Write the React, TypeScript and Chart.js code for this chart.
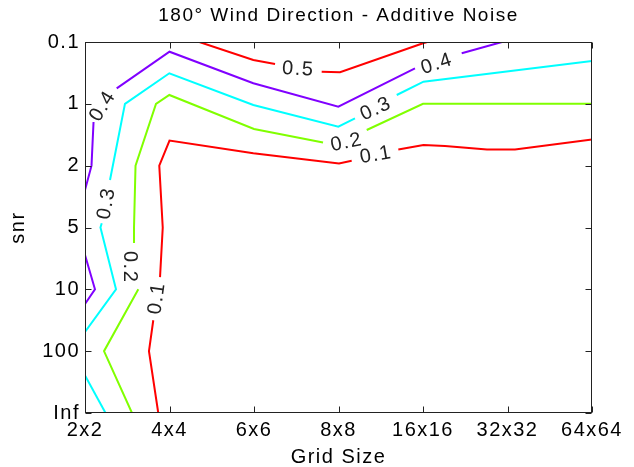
import React, { useEffect, useRef } from 'react';
import { Chart, registerables } from 'chart.js';

Chart.register(...registerables);

// axis categories
const gridSizes = ['2x2', '4x4', '6x6', '8x8', '16x16', '32x32', '64x64'];
const snrLabels = ['0.1', '1', '2', '5', '10', '100', 'Inf'];
const contourLevels = [0.1, 0.2, 0.3, 0.4, 0.5];

// contour paths as [grid-size index, snr index] pairs (broken where labels sit)
const level01a = [[0.888, 3.803], [0.92, 3.0], [0.879, 2.0], [1.0, 1.593], [1.992, 1.8], [3.006, 1.965], [3.156, 1.92]];
const level01b = [[3.708, 1.737], [4.006, 1.667], [4.26, 1.683], [4.757, 1.74], [5.089, 1.737], [6.0, 1.575]];
const level01c = [[0.808, 4.5], [0.757, 5.0], [0.867, 6.0]];
const level02a = [[0.58, 3.251], [0.58, 3.0], [0.598, 2.0], [0.84, 1.0], [0.998, 0.857], [2.0, 1.407], [2.817, 1.625]];
const level02b = [[3.334, 1.423], [4.0, 1.0], [6.0, 1.0]];
const level02c = [[0.631, 4.0], [0.225, 5.0], [0.556, 6.0]];
const level03a = [[0.296, 2.232], [0.473, 1.0], [0.998, 0.506], [1.992, 1.019], [2.998, 1.37], [3.195, 1.234]];
const level03b = [[3.689, 0.857], [4.006, 0.642], [6.0, 0.307]];
const level03c = [[0.198, 2.932], [0.183, 3.0], [0.367, 4.0], [0, 4.69]];
const level03d = [[0, 5.392], [0.243, 6.0]];
const level04a = [[0.375, 0.749], [1.0, 0.157], [1.992, 0.668], [2.998, 1.046], [3.905, 0.425]];
const level04b = [[4.458, 0.183], [4.935, 0]];
const level04c = [[0.101, 1.294], [0.077, 2.0], [0, 2.394]];
const level04d = [[0, 3.445], [0.118, 4.0], [0, 4.237]];
const level05a = [[1.353, 0], [1.992, 0.291], [2.249, 0.356]];
const level05b = [[2.801, 0.48], [3.018, 0.49], [4.0, 0.02], [4.05, 0]];

const segments = [level01a, level01b, level01c, level02a, level02b, level02c, level03a, level03b, level03c, level03d, level04a, level04b, level04c, level04d, level05a, level05b];
const segmentLevels = [0.1, 0.1, 0.1, 0.2, 0.2, 0.2, 0.3, 0.3, 0.3, 0.3, 0.4, 0.4, 0.4, 0.4, 0.5, 0.5];

// inline contour labels
const labelLevels = [0.5, 0.4, 0.4, 0.3, 0.3, 0.2, 0.2, 0.1, 0.1];
const labelX = [2.524, 4.166, 0.213, 3.444, 0.257, 3.095, 0.527, 3.444, 0.852];
const labelY = [0.442, 0.356, 1.036, 1.084, 2.61, 1.626, 3.641, 1.829, 4.142];
const labelAngles = [3, -18, -58, -25, -80, -12, 90, -10, -82];

// styles
const levelColors = ['#ff0000', '#80ff00', '#00ffff', '#8000ff', '#ff0000'];
const FONT = '"Liberation Sans", Arial, Helvetica, sans-serif';
const SPACING = '1.5px';

const colorFor = (lvl: number) => levelColors[contourLevels.indexOf(lvl)];

const spacingPlugin = {
  id: 'spacing',
  beforeLayout(chart: any) { chart.ctx.letterSpacing = SPACING; },
  beforeDraw(chart: any) { chart.ctx.letterSpacing = SPACING; },
};

const boxPlugin = {
  id: 'box',
  afterDraw(chart: any) {
    const { ctx, chartArea, scales } = chart;
    const { left, right, top, bottom } = chartArea;
    const L = Math.round(left) + 0.5, R = Math.round(right) - 0.5;
    const T = Math.round(top) + 0.5, B = Math.round(bottom) - 0.5;
    ctx.save();
    ctx.strokeStyle = '#222';
    ctx.lineWidth = 1;
    ctx.strokeRect(L, T, R - L, B - T);
    ctx.beginPath();
    for (let i = 0; i < gridSizes.length; i++) {
      const px = Math.round(scales.x.getPixelForValue(i)) + 0.5;
      ctx.moveTo(px, B); ctx.lineTo(px, B - 6);
      ctx.moveTo(px, T); ctx.lineTo(px, T + 6);
    }
    for (let i = 0; i < snrLabels.length; i++) {
      const py = Math.round(scales.y.getPixelForValue(i)) + 0.5;
      ctx.moveTo(L, py); ctx.lineTo(L + 6, py);
      ctx.moveTo(R, py); ctx.lineTo(R - 6, py);
    }
    ctx.stroke();
    ctx.restore();
  },
};

const labelPlugin = {
  id: 'contourLabels',
  afterDatasetsDraw(chart: any) {
    const { ctx, scales } = chart;
    ctx.save();
    ctx.letterSpacing = SPACING;
    ctx.font = `20px ${FONT}`;
    ctx.fillStyle = '#222';
    ctx.textAlign = 'center';
    ctx.textBaseline = 'middle';
    for (let i = 0; i < labelLevels.length; i++) {
      const px = scales.x.getPixelForValue(labelX[i]);
      const py = scales.y.getPixelForValue(labelY[i]);
      ctx.save();
      ctx.translate(px, py);
      ctx.rotate((labelAngles[i] * Math.PI) / 180);
      ctx.fillText(String(labelLevels[i]), 0, 0);
      ctx.restore();
    }
    ctx.restore();
  },
};

export default function App() {
  const ref = useRef<HTMLCanvasElement | null>(null);
  useEffect(() => {
    if (!ref.current) return;
    const datasets = segments.map((seg, i) => ({
      label: `level ${segmentLevels[i]}`,
      data: seg.map(([x, y]) => ({ x, y })),
      showLine: true,
      borderColor: colorFor(segmentLevels[i]),
      backgroundColor: colorFor(segmentLevels[i]),
      borderWidth: 2,
      pointRadius: 0,
      pointHoverRadius: 0,
      tension: 0,
      fill: false,
    }));
    const chart = new Chart(ref.current, {
      type: 'scatter',
      data: { datasets },
      plugins: [spacingPlugin, boxPlugin, labelPlugin],
      options: {
        animation: false,
        responsive: false,
        devicePixelRatio: 1,
        layout: { padding: { left: 0, right: 42, top: 0, bottom: 0 } },
        plugins: {
          legend: { display: false },
          tooltip: { enabled: false },
          title: {
            display: true,
            text: '180° Wind Direction - Additive Noise',
            color: '#000',
            fullSize: false,
            font: { family: FONT, size: 19, weight: 'normal' },
            padding: { top: 4.6, bottom: 14.6 },
          },
        },
        scales: {
          x: {
            type: 'linear',
            min: 0,
            max: 6,
            position: 'bottom',
            grid: { display: false, drawTicks: false },
            border: { display: false },
            ticks: {
              stepSize: 1,
              autoSkip: false,
              maxRotation: 0,
              padding: 5,
              color: '#000',
              font: { family: FONT, size: 20 },
              callback: (v: any) => gridSizes[Math.round(Number(v))],
            },
            title: {
              display: true,
              text: 'Grid Size',
              color: '#000',
              font: { family: FONT, size: 20 },
              padding: { top: 0, bottom: -2 },
            },
            afterFit: (s: any) => { s.height = 54; s.paddingLeft = 0; s.paddingRight = 0; },
          },
          y: {
            type: 'linear',
            min: 0,
            max: 6,
            reverse: true,
            grid: { display: false, drawTicks: false },
            border: { display: false },
            ticks: {
              stepSize: 1,
              autoSkip: false,
              padding: 5,
              color: '#000',
              font: { family: FONT, size: 20 },
              callback: (v: any) => snrLabels[Math.round(Number(v))],
            },
            title: {
              display: true,
              text: 'snr',
              color: '#000',
              font: { family: FONT, size: 20 },
              padding: { top: 6, bottom: 0 },
            },
            afterFit: (s: any) => { s.width = 85; s.paddingTop = 0; s.paddingBottom = 0; },
          },
        },
      } as any,
    });
    return () => chart.destroy();
  }, []);
  return (
    <div style={{ position: 'absolute', left: 0, top: 0, width: 634, height: 467, background: '#fff' }}>
      <canvas ref={ref} width={634} height={467} style={{ display: 'block' }} />
    </div>
  );
}
